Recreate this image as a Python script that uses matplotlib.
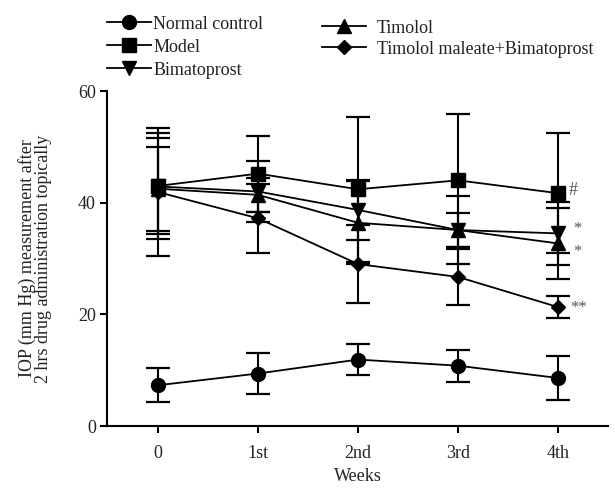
import matplotlib
matplotlib.use("Agg")
import matplotlib.pyplot as plt

weeks = ["0", "1st", "2nd", "3rd", "4th"]

normal = [7.3, 9.4, 11.9, 10.8, 8.6]
normal_err = [3.0, 3.7, 2.8, 2.9, 4.0]
model = [43.0, 45.2, 42.4, 44.0, 41.7]
model_err = [9.5, 6.8, 13.0, 11.9, 10.7]
bimato = [42.9, 42.0, 38.7, 35.1, 34.5]
bimato_err = [8.6, 5.5, 5.3, 6.1, 5.6]
timolol = [42.5, 41.4, 36.4, 35.1, 32.7]
timolol_err = [7.5, 3.0, 7.4, 3.0, 6.4]
tmb = [41.9, 37.2, 29.0, 26.7, 21.3]
tmb_err = [11.5, 6.2, 7.0, 5.0, 2.0]

labels = ["Normal control", "Model", "Bimatoprost", "Timolol",
          "Timolol maleate+Bimatoprost"]
sig_marks = ["", "#", "*", "*", "**"]

plt.rcParams['font.family'] = ['Liberation Serif', 'DejaVu Serif']
FS = 13
plt.rcParams['font.size'] = FS

fig = plt.figure(figsize=(6.15, 4.93), dpi=100)
ax = fig.add_axes([0.174, 0.1359, 0.8146, 0.6795])

x = list(range(len(weeks)))
series = [(normal, normal_err, 'o', 10),
          (model, model_err, 's', 9.5),
          (bimato, bimato_err, 'v', 10),
          (timolol, timolol_err, '^', 10),
          (tmb, tmb_err, 'D', 7.5)]

handles = []
for (vals, err, mk, ms), lab in zip(series, labels):
    h = ax.errorbar(x, vals, yerr=err, marker=mk, markersize=ms, color='black',
                    lw=1.3, elinewidth=1.5, capsize=8.5, capthick=1.6,
                    label=lab, clip_on=False)
    handles.append(h.lines[0])

# significance marks
offsets = [None, (11, 2), (14, 3), (14, -6), (15, -1)]
for vals, mark, off in zip([normal, model, bimato, timolol, tmb], sig_marks, offsets):
    if mark:
        fs = 13 if mark == "#" else 12
        ax.annotate(mark, xy=(x[-1], vals[-1]), xytext=off, textcoords='offset points',
                    ha='center', va='center', color='#555555', fontsize=fs)

ax.set_xlim(-0.51, 4.5)
ax.set_ylim(0, 60)
ax.set_yticks([0, 20, 40, 60])
ax.set_xticks(x)
ax.set_xticklabels(weeks)
for s in ['top', 'right']:
    ax.spines[s].set_visible(False)
for s in ['left', 'bottom']:
    ax.spines[s].set_linewidth(1.5)
ax.tick_params(direction='out', length=5, width=1.5, labelsize=FS,
               labelcolor='#222222', pad=3)
ax.tick_params(axis='x', pad=9)
ax.set_xlabel("Weeks", fontsize=FS, color='#222222', labelpad=4)
ax.set_ylabel("IOP (mm Hg) measurement after\n2 hrs drug administration topically",
              fontsize=FS, color='#222222', linespacing=0.95)
ax.yaxis.set_label_coords(-0.11, 0.5)

leg1 = fig.legend(handles[:3], labels[:3], loc='upper left',
                  bbox_to_anchor=(0.174, 0.968), frameon=False, borderpad=0,
                  borderaxespad=0, handlelength=2.45, handletextpad=0.12,
                  labelspacing=0.33, fontsize=FS, numpoints=1)
leg2 = fig.legend(handles[3:], labels[3:], loc='upper left',
                  bbox_to_anchor=(0.5236, 0.96), frameon=False, borderpad=0,
                  borderaxespad=0, handlelength=2.45, handletextpad=0.6,
                  labelspacing=0.22, fontsize=FS, numpoints=1)
for leg in (leg1, leg2):
    for t in leg.get_texts():
        t.set_color('#222222')

fig.savefig("out.png", dpi=100)
